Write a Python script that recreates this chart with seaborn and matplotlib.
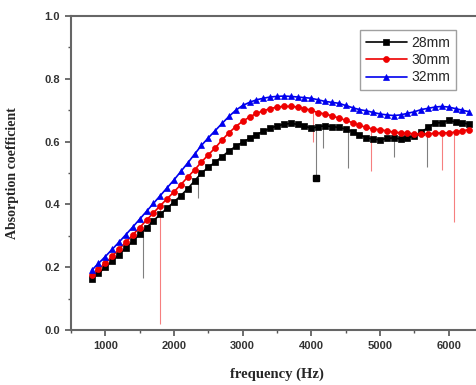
import numpy as np
import pandas as pd
import matplotlib
matplotlib.use("Agg")
import matplotlib.pyplot as plt
import seaborn as sns
from matplotlib.ticker import MultipleLocator

# ---------------- data ----------------
freq = list(range(800, 6301, 100))

alpha_28mm = [0.163, 0.180, 0.200, 0.220, 0.240, 0.262, 0.283, 0.305, 0.326, 0.348,
              0.368, 0.388, 0.408, 0.428, 0.450, 0.475, 0.500, 0.518, 0.535, 0.552,
              0.570, 0.585, 0.598, 0.610, 0.622, 0.633, 0.642, 0.650, 0.655, 0.658,
              0.655, 0.650, 0.642, 0.648, 0.650, 0.648, 0.645, 0.640, 0.632, 0.622,
              0.612, 0.608, 0.606, 0.610, 0.612, 0.608, 0.612, 0.618, 0.630, 0.645,
              0.660, 0.660, 0.668, 0.662, 0.660, 0.655]

alpha_30mm = [0.175, 0.193, 0.213, 0.235, 0.258, 0.280, 0.303, 0.326, 0.350, 0.373,
              0.396, 0.418, 0.440, 0.463, 0.487, 0.510, 0.535, 0.558, 0.580, 0.605,
              0.628, 0.648, 0.665, 0.678, 0.690, 0.698, 0.705, 0.710, 0.712, 0.712,
              0.710, 0.705, 0.700, 0.692, 0.688, 0.682, 0.675, 0.668, 0.660, 0.652,
              0.645, 0.640, 0.638, 0.634, 0.630, 0.628, 0.626, 0.625, 0.624, 0.625,
              0.626, 0.628, 0.628, 0.630, 0.635, 0.638]

alpha_32mm = [0.190, 0.212, 0.234, 0.257, 0.280, 0.304, 0.328, 0.353, 0.378, 0.403,
              0.428, 0.453, 0.478, 0.505, 0.532, 0.560, 0.588, 0.612, 0.635, 0.658,
              0.680, 0.700, 0.715, 0.725, 0.733, 0.738, 0.742, 0.744, 0.745, 0.744,
              0.742, 0.740, 0.738, 0.733, 0.728, 0.725, 0.722, 0.715, 0.708, 0.702,
              0.698, 0.693, 0.688, 0.685, 0.683, 0.685, 0.690, 0.695, 0.702, 0.706,
              0.710, 0.712, 0.710, 0.705, 0.700, 0.695]

# narrow dips (spikes) in the measured curves: frequency and lowest value
spike_28_f = [1550, 2350, 4070, 4170, 4540, 5210, 5690]
spike_28_v = [0.165, 0.420, 0.484, 0.580, 0.515, 0.550, 0.520]
spike_30_f = [1800, 4030, 4870, 5900, 6080]
spike_30_v = [0.020, 0.600, 0.505, 0.510, 0.345]

series_labels = ["28mm", "30mm", "32mm"]
x_ticks = [1000, 2000, 3000, 4000, 5000, 6000]
y_ticks = [0.0, 0.2, 0.4, 0.6, 0.8, 1.0]

# ---------------- figure ----------------
sns.set_style("ticks")
plt.rcParams["font.family"] = ["Liberation Sans", "DejaVu Sans"]

W, H = 476, 385
fig = plt.figure(figsize=(W / 100, H / 100), dpi=100)
ax = fig.add_axes([71 / W, 1 - 330 / H, (483 - 71) / W, (330 - 16) / H])

colors = ["#000000", "#ee0000", "#0000ee"]
markers = ["s", "o", "^"]
values = [alpha_28mm, alpha_30mm, alpha_32mm]

# spikes (thin vertical drops)
for sf, sv, col, base in [(spike_28_f, spike_28_v, colors[0], alpha_28mm),
                          (spike_30_f, spike_30_v, colors[1], alpha_30mm)]:
    top = np.interp(sf, freq, base)
    ax.vlines(sf, sv, top, colors=col, lw=0.8, alpha=0.5, zorder=1)

ax.plot([4070], [0.484], marker="s", color="black", ms=4.2, ls="none", zorder=3)

for lab, vals, col, mk in zip(series_labels, values, colors, markers):
    sns.lineplot(x=freq, y=vals, ax=ax, color=col, marker=mk, markersize=4.3,
                 markeredgecolor=col, markeredgewidth=0.5, lw=1.2,
                 label=lab, zorder=2)

ax.set_xlim(500, 6500)
ax.set_ylim(0.0, 1.0)
ax.set_xticks(x_ticks)
ax.set_yticks(y_ticks)
ax.set_yticklabels([f"{t:.1f}" for t in y_ticks])
ax.xaxis.set_minor_locator(MultipleLocator(500))
ax.yaxis.set_minor_locator(MultipleLocator(0.1))
ax.tick_params(which="major", direction="out", length=4, width=1.2, color="#555555",
               labelsize=8, labelcolor="#333333", pad=4)
ax.tick_params(which="minor", direction="out", length=2, width=1.0, color="#555555")
for t in ax.get_xticklabels() + ax.get_yticklabels():
    t.set_fontweight("bold")

for s in ["left", "bottom", "top", "right"]:
    ax.spines[s].set_visible(True)
    ax.spines[s].set_color("#666666")
    ax.spines[s].set_linewidth(1.5)

ax.set_xlabel("frequency (Hz)", fontsize=10.5, fontweight="bold",
              family=["Liberation Serif", "DejaVu Serif"], labelpad=12)
ax.set_ylabel("Absorption coefficient", fontsize=10, fontweight="bold",
              family=["Liberation Serif", "DejaVu Serif"], labelpad=18)

leg = ax.legend(loc="upper left", bbox_to_anchor=((360 - 71) / (483 - 71), (330 - 30) / 314),
                fontsize=10, frameon=True, fancybox=False, borderpad=0.4,
                handlelength=3.0, handletextpad=0.3, labelspacing=0.25,
                borderaxespad=0)
leg.get_frame().set_edgecolor("#888888")
leg.get_frame().set_linewidth(1.0)

fig.savefig("out.png", dpi=100)
